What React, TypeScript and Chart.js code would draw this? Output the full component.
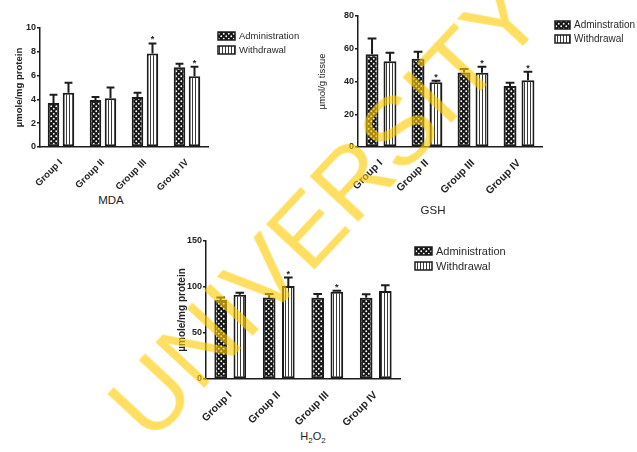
import React, { useEffect, useRef } from "react";
import { Chart, registerables } from "chart.js";
Chart.register(...registerables);

const FONT = "'Liberation Sans', Arial, Helvetica, sans-serif";
const INK = "#1c1c1c";

const groups = ["Group I", "Group II", "Group III", "Group IV"];
const seriesLabelsA = ["Administration", "Withdrawal"];
const seriesLabelsB = ["Adminstration", "Withdrawal"];

// MDA
const mdaAdmin = [3.7, 3.95, 4.2, 6.7];
const mdaAdminSem = [0.7, 0.25, 0.35, 0.3];
const mdaWithdrawal = [4.55, 4.1, 7.85, 5.95];
const mdaWithdrawalSem = [0.85, 0.9, 0.85, 0.8];
const mdaAdminSig = [false, false, false, false];
const mdaWithdrawalSig = [false, false, true, true];
const mdaTicks = [0, 2, 4, 6, 8, 10];

// GSH
const gshAdmin = [56.7, 53.9, 45.5, 37.2];
const gshAdminSem = [9.6, 4.3, 2.1, 2.0];
const gshWithdrawal = [52.4, 39.6, 45.3, 40.8];
const gshWithdrawalSem = [5.1, 0.8, 3.7, 5.1];
const gshAdminSig = [false, false, false, false];
const gshWithdrawalSig = [false, true, true, true];
const gshTicks = [0, 20, 40, 60, 80];

// H2O2
const h2o2Admin = [85.8, 88.7, 88.4, 88.4];
const h2o2AdminSem = [2.9, 3.6, 3.9, 3.6];
const h2o2Withdrawal = [91.6, 101, 94.8, 95.6];
const h2o2WithdrawalSem = [2.2, 9.3, 1.0, 6.4];
const h2o2AdminSig = [false, false, false, false];
const h2o2WithdrawalSig = [false, true, true, false];
const h2o2Ticks = [0, 50, 100, 150];

function makeCheckPattern(): CanvasPattern | string {
  const c = document.createElement("canvas");
  c.width = 5;
  c.height = 5;
  const g = c.getContext("2d");
  if (!g) return "#222";
  g.fillStyle = "#151515";
  g.fillRect(0, 0, 5, 5);
  g.fillStyle = "#ffffff";
  g.beginPath();
  g.arc(1.25, 1.25, 0.95, 0, Math.PI * 2);
  g.fill();
  g.beginPath();
  g.arc(3.75, 3.75, 0.95, 0, Math.PI * 2);
  g.fill();
  return g.createPattern(c, "repeat") || "#222";
}

function makeStripePattern(): CanvasPattern | string {
  const c = document.createElement("canvas");
  c.width = 3;
  c.height = 3;
  const g = c.getContext("2d");
  if (!g) return "#ddd";
  g.fillStyle = "#ffffff";
  g.fillRect(0, 0, 3, 3);
  g.fillStyle = "#3a3a3a";
  g.fillRect(0, 0, 1, 3);
  return g.createPattern(c, "repeat") || "#ddd";
}

type PanelProps = {
  left: number;
  top: number;
  width: number;
  height: number;
  padTop: number;
  padRight: number;
  yWidth: number;
  xHeight: number;
  admin: number[];
  adminSem: number[];
  adminSig: boolean[];
  withdrawal: number[];
  withdrawalSem: number[];
  withdrawalSig: boolean[];
  ticks: number[];
  yTitle: string;
  yTitleBold: boolean;
  yTitleSize: number;
  yTitlePad: number;
  tickSize: number;
  xTickSize: number;
  catPct: number;
  barPct: number;
  legendLabels: string[];
  legendX: number;
  legendY: number;
  legendGap: number;
  legendBoxW: number;
  legendFont: number;
};

function BarPanel(p: PanelProps) {
  const ref = useRef<HTMLCanvasElement | null>(null);
  useEffect(() => {
    if (!ref.current) return;
    const check = makeCheckPattern();
    const stripe = makeStripePattern();
    const sems = [p.adminSem, p.withdrawalSem];
    const sigs = [p.adminSig, p.withdrawalSig];

    const extras = {
      id: "panelExtras",
      afterDatasetsDraw(chart: any) {
        const ctx = chart.ctx;
        const ys = chart.scales.y;
        chart.data.datasets.forEach((ds: any, i: number) => {
          const meta = chart.getDatasetMeta(i);
          meta.data.forEach((bar: any, j: number) => {
            const v = ds.data[j] as number;
            const yv = ys.getPixelForValue(v);
            const yt = ys.getPixelForValue(v + sems[i][j]);
            const half = bar.width * 0.34;
            ctx.save();
            ctx.strokeStyle = INK;
            ctx.lineWidth = 2;
            ctx.beginPath();
            ctx.moveTo(bar.x, yv);
            ctx.lineTo(bar.x, yt);
            ctx.moveTo(bar.x - half, yt);
            ctx.lineTo(bar.x + half, yt);
            ctx.stroke();
            if (sigs[i][j]) {
              ctx.fillStyle = INK;
              ctx.font = `bold 9px ${FONT}`;
              ctx.textAlign = "center";
              ctx.textBaseline = "alphabetic";
              ctx.fillText("*", bar.x, yt - 1);
            }
            ctx.restore();
          });
        });
      },
      afterDraw(chart: any) {
        const ctx = chart.ctx;
        chart.data.datasets.forEach((ds: any, i: number) => {
          const cy = p.legendY + i * p.legendGap;
          ctx.save();
          ctx.fillStyle = ds.backgroundColor;
          ctx.fillRect(p.legendX, cy - 4, p.legendBoxW, 8);
          ctx.strokeStyle = INK;
          ctx.lineWidth = 1.5;
          ctx.strokeRect(p.legendX, cy - 4, p.legendBoxW, 8);
          ctx.fillStyle = "#2a2a2a";
          ctx.font = `${p.legendFont}px ${FONT}`;
          ctx.textAlign = "left";
          ctx.textBaseline = "middle";
          ctx.fillText(p.legendLabels[i], p.legendX + p.legendBoxW + 4, cy + 0.5);
          ctx.restore();
        });
      },
    };

    const chart = new Chart(ref.current, {
      type: "bar",
      data: {
        labels: groups,
        datasets: [
          {
            label: p.legendLabels[0],
            data: p.admin,
            backgroundColor: check as any,
            borderColor: INK,
            borderWidth: 2,
            borderSkipped: false,
            categoryPercentage: p.catPct,
            barPercentage: p.barPct,
          },
          {
            label: p.legendLabels[1],
            data: p.withdrawal,
            backgroundColor: stripe as any,
            borderColor: INK,
            borderWidth: 2,
            borderSkipped: false,
            categoryPercentage: p.catPct,
            barPercentage: p.barPct,
          },
        ],
      },
      options: {
        animation: false,
        responsive: false,
        devicePixelRatio: 1,
        layout: { padding: { top: p.padTop, right: p.padRight, left: 0, bottom: 0 } },
        plugins: { legend: { display: false }, tooltip: { enabled: false } },
        scales: {
          x: {
            ticks: {
              minRotation: 45,
              maxRotation: 45,
              padding: 2,
              color: "#222",
              font: { family: FONT, size: p.xTickSize, weight: "bold" },
            },
            grid: { display: false },
            border: { display: true, color: INK, width: 1.5 },
            afterFit: (s: any) => {
              s.height = p.xHeight;
            },
          },
          y: {
            min: p.ticks[0],
            max: p.ticks[p.ticks.length - 1],
            afterBuildTicks: (s: any) => {
              s.ticks = p.ticks.map((v) => ({ value: v }));
            },
            ticks: {
              padding: 1,
              color: "#222",
              font: { family: FONT, size: p.tickSize, weight: "bold" },
            },
            grid: {
              display: true,
              drawOnChartArea: false,
              drawTicks: true,
              tickLength: 3,
              color: INK,
              lineWidth: 1.5,
            },
            border: { display: true, color: INK, width: 1.5 },
            title: {
              display: true,
              text: p.yTitle,
              color: "#222",
              font: { family: FONT, size: p.yTitleSize, weight: p.yTitleBold ? "bold" : "normal" },
              padding: { top: p.yTitlePad, bottom: 0 },
            },
            afterFit: (s: any) => {
              s.width = p.yWidth;
            },
          },
        },
      } as any,
      plugins: [extras as any],
    });
    return () => chart.destroy();
  }, []);
  return (
    <canvas
      ref={ref}
      width={p.width}
      height={p.height}
      style={{ position: "absolute", left: p.left, top: p.top, width: p.width, height: p.height }}
    />
  );
}

const titleStyle = (cx: number, cy: number, size: number): React.CSSProperties => ({
  position: "absolute",
  left: cx,
  top: cy,
  transform: "translate(-50%, -50%)",
  fontFamily: FONT,
  fontSize: size,
  color: "#222",
  whiteSpace: "nowrap",
  lineHeight: 1,
});

export default function App() {
  return (
    <div
      style={{
        position: "absolute",
        left: 0,
        top: 0,
        width: 637,
        height: 452,
        background: "#ffffff",
        overflow: "hidden",
      }}
    >
      <BarPanel
        left={0}
        top={0}
        width={310}
        height={190}
        padTop={28}
        padRight={102}
        yWidth={40}
        xHeight={43}
        admin={mdaAdmin}
        adminSem={mdaAdminSem}
        adminSig={mdaAdminSig}
        withdrawal={mdaWithdrawal}
        withdrawalSem={mdaWithdrawalSem}
        withdrawalSig={mdaWithdrawalSig}
        ticks={mdaTicks}
        yTitle="µmole/mg protein"
        yTitleBold={true}
        yTitleSize={9.5}
        yTitlePad={14}
        tickSize={9}
        xTickSize={9.5}
        catPct={0.714}
        barPct={0.77}
        legendLabels={seriesLabelsA}
        legendX={218}
        legendY={36}
        legendGap={14}
        legendBoxW={17}
        legendFont={9.5}
      />
      <BarPanel
        left={305}
        top={0}
        width={332}
        height={195}
        padTop={16}
        padRight={95}
        yWidth={53}
        xHeight={48}
        admin={gshAdmin}
        adminSem={gshAdminSem}
        adminSig={gshAdminSig}
        withdrawal={gshWithdrawal}
        withdrawalSem={gshWithdrawalSem}
        withdrawalSig={gshWithdrawalSig}
        ticks={gshTicks}
        yTitle="µmol/g tissue"
        yTitleBold={false}
        yTitleSize={9.5}
        yTitlePad={12}
        tickSize={9}
        xTickSize={10.5}
        catPct={0.78}
        barPct={0.72}
        legendLabels={seriesLabelsB}
        legendX={250}
        legendY={25}
        legendGap={14}
        legendBoxW={15}
        legendFont={10}
      />
      <BarPanel
        left={165}
        top={225}
        width={472}
        height={200}
        padTop={16}
        padRight={237}
        yWidth={41}
        xHeight={46}
        admin={h2o2Admin}
        adminSem={h2o2AdminSem}
        adminSig={h2o2AdminSig}
        withdrawal={h2o2Withdrawal}
        withdrawalSem={h2o2WithdrawalSem}
        withdrawalSig={h2o2WithdrawalSig}
        ticks={h2o2Ticks}
        yTitle="µmole/mg protein"
        yTitleBold={true}
        yTitleSize={10}
        yTitlePad={11}
        tickSize={9}
        xTickSize={10.5}
        catPct={0.79}
        barPct={0.66}
        legendLabels={seriesLabelsA}
        legendX={250}
        legendY={26}
        legendGap={15}
        legendBoxW={17}
        legendFont={11}
      />
      <div style={titleStyle(111, 201, 11.5)}>MDA</div>
      <div style={titleStyle(433, 211, 11.5)}>GSH</div>
      <div style={titleStyle(313, 438, 11)}>
        H<sub style={{ fontSize: 8, verticalAlign: -3 }}>2</sub>O
        <sub style={{ fontSize: 8, verticalAlign: -3 }}>2</sub>
      </div>
      <div style={{ position: "absolute", left: 325, top: 209, width: 0, height: 0, pointerEvents: "none" }}>
        <span
          style={{
            position: "absolute",
            left: 0,
            top: 0,
            transform: "translate(-50%, -50%) rotate(-47deg)",
            fontFamily: FONT,
            fontSize: 97,
            lineHeight: 1,
            whiteSpace: "nowrap",
            color: "rgba(255, 204, 0, 0.62)",
          }}
        >
          UNIVERSITY
        </span>
      </div>
    </div>
  );
}
